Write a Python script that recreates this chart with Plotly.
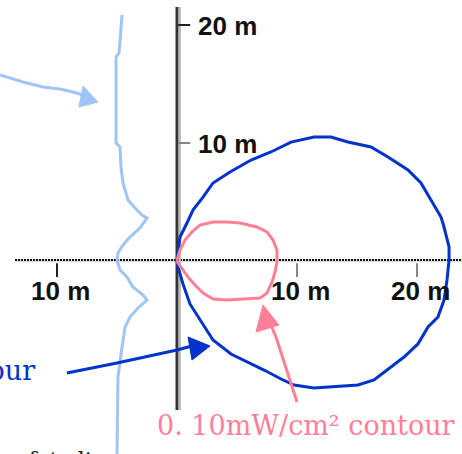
import plotly.graph_objects as go

# contour outlines, metres from the source point (x right, y up)
blue_x = [0, 0.25, 0.83, 1.33, 2.17, 3.0, 4.42, 6.17, 7.83, 9.5, 11.42, 12.83, 14.25, 16.17,
          17.58, 19.25, 20.33, 21.17, 22.0, 22.25, 22.67, 22.67, 22.5, 22.25, 21.75, 20.92,
          20.08, 18.92, 17.83, 16.42, 15.08, 12.83, 11.42, 9.75, 8.67, 7.25, 5.92, 4.5, 3.0,
          1.92, 1.08, 0.5, 0.08, 0]
blue_y = [0.08, 2.03, 3.22, 4.32, 5.42, 6.61, 7.54, 8.56, 9.24, 10.08, 10.51, 10.51, 10.08, 9.66,
          8.81, 7.71, 6.61, 5.17, 3.73, 2.88, 1.19, 0.08, -1.61, -3.31, -4.75, -5.59,
          -7.03, -8.14, -8.98, -10.08, -10.51, -10.68, -10.76, -10.51, -10.0, -9.24, -8.56, -7.88, -6.69,
          -5.0, -3.64, -1.95, -0.51, 0.08]

pink_x = [0, 0.25, 0.67, 1.25, 1.92, 3.0, 4.17, 5.25, 6.67, 7.5, 8.0, 8.33, 8.33, 8.17, 7.92,
          7.5, 6.92, 5.5, 4.17, 3.0, 2.17, 1.5, 0.92, 0.5, 0.08, 0]
pink_y = [0.08, 0.93, 1.78, 2.46, 3.05, 3.31, 3.31, 3.22, 2.88, 2.46, 1.78, 0.93, -0.08, -0.93, -1.78,
          -2.71, -3.14, -3.22, -3.31, -3.22, -2.71, -2.03, -1.36, -0.76, -0.17, 0.08]

wave_x = [-4.58, -4.67, -4.83, -5.08, -5.08, -4.75, -4.67, -4.5, -4.08, -3.5, -2.92, -2.5, -3.08,
          -3.92, -4.5, -4.92, -5.0, -4.75, -4.17, -3.67, -2.83, -2.5, -3.25, -3.92, -4.33, -4.58,
          -4.75, -4.92, -5.0]
wave_y = [20.85, 19.58, 17.63, 17.29, 10.0, 9.66, 7.97, 6.61, 5.17, 4.49, 3.9, 3.64, 2.8,
          2.03, 1.36, 0.68, 0.08, -0.76, -1.36, -2.2, -2.88, -3.31, -3.98, -4.75, -5.59, -7.29,
          -8.39, -9.83, -16.36]

# pointer arrows: shaft points and head triangles
lb_arrow_x = [-14.75, -13.92, -12.83, -11.17, -9.75, -8.33, -7.42]
lb_arrow_y = [15.76, 15.51, 15.17, 14.75, 14.58, 14.24, 13.9]
lb_head_x = [-7.83, -6.58, -8.17]
lb_head_y = [14.83, 13.47, 13.05]

db_arrow_x = [-9.17, -5.0, 0, 1.25]
db_arrow_y = [-9.49, -8.64, -7.54, -7.2]
db_head_x = [0.92, 2.75, 1.25]
db_head_y = [-6.44, -7.2, -8.39]

pk_arrow_x = [10.0, 9.08, 8.25, 7.58]
pk_arrow_y = [-11.95, -8.98, -6.44, -4.83]
pk_head_x = [7.17, 6.58, 8.5]
pk_head_y = [-3.73, -6.02, -5.42]

# axis ticks (m)
x_ticks = [-10, 10, 20]
y_ticks = [10, 20]

DARK_BLUE = "#0033cc"
PINK = "#ff8096"
LIGHT_BLUE = "#9fc5f8"

fig = go.Figure()

# axes
fig.add_trace(go.Scatter(x=[-13.5, 23.75], y=[0.03, 0.03], mode="lines",
                         line=dict(color="#dde0e3", width=3), hoverinfo="skip"))
fig.add_trace(go.Scatter(x=[-13.5, 23.75], y=[0.08, 0.08], mode="lines",
                         line=dict(color="#111", width=2, dash="2px,1px"), hoverinfo="skip"))
fig.add_trace(go.Scatter(x=[0.25, 0.25], y=[21.53, -12.63], mode="lines",
                         line=dict(color="#bbbbbb", width=2), hoverinfo="skip"))
fig.add_trace(go.Scatter(x=[0, 0], y=[21.53, -12.63], mode="lines",
                         line=dict(color="#333333", width=3), hoverinfo="skip"))
for t in x_ticks:
    fig.add_trace(go.Scatter(x=[t, t], y=[-0.2, -1.35], mode="lines",
                             line=dict(color="#222" if t < 0 else "#888", width=2), hoverinfo="skip"))
    fig.add_annotation(x=t + 0.25, y=-2.5, text=f"<b>{abs(t)} m</b>", showarrow=False,
                       font=dict(family="Liberation Sans", size=26, color="#111"))
for t in y_ticks:
    fig.add_trace(go.Scatter(x=[0.1, 1.1], y=[t, t], mode="lines",
                             line=dict(color="#222" if t == 20 else "#888", width=2), hoverinfo="skip"))
    fig.add_annotation(x=1.6, y=t - 0.1, text=f"<b>{t} m</b>", showarrow=False, xanchor="left",
                       font=dict(family="Liberation Sans", size=26, color="#111"))

# curves
fig.add_trace(go.Scatter(x=wave_x, y=wave_y, mode="lines", line=dict(color=LIGHT_BLUE, width=3)))
fig.add_trace(go.Scatter(x=blue_x, y=blue_y, mode="lines", line=dict(color=DARK_BLUE, width=3)))
fig.add_trace(go.Scatter(x=pink_x, y=pink_y, mode="lines", line=dict(color=PINK, width=3)))

# arrows
for sx, sy, hx, hy, c in [(lb_arrow_x, lb_arrow_y, lb_head_x, lb_head_y, LIGHT_BLUE),
                          (db_arrow_x, db_arrow_y, db_head_x, db_head_y, DARK_BLUE),
                          (pk_arrow_x, pk_arrow_y, pk_head_x, pk_head_y, PINK)]:
    fig.add_trace(go.Scatter(x=sx, y=sy, mode="lines", line=dict(color=c, width=3)))
    fig.add_trace(go.Scatter(x=hx + hx[:1], y=hy + hy[:1], mode="lines", fill="toself",
                             fillcolor=c, line=dict(color=c, width=1)))

# labels
fig.add_annotation(x=10.75, y=-13.9, text="0. 10mW/cm² contour", showarrow=False,
                   font=dict(family="DejaVu Serif", size=27, color=PINK))
fig.add_annotation(x=-11.65, y=-9.3, text="contour", showarrow=False, xanchor="right",
                   font=dict(family="DejaVu Serif", size=27, color=DARK_BLUE))
fig.add_annotation(x=-14.6, y=-15.7, text="safety line", showarrow=False, xanchor="left",
                   yanchor="top", font=dict(family="DejaVu Serif", size=22, color="#222"))

fig.update_layout(
    width=462, height=454,
    margin=dict(l=0, r=0, t=0, b=0),
    plot_bgcolor="white", paper_bgcolor="white",
    showlegend=False,
    xaxis=dict(range=[-14.75, 23.75], visible=False, fixedrange=True),
    yaxis=dict(range=[-16.356, 22.119], visible=False, fixedrange=True),
)

fig.write_html("out.html", config={"displayModeBar": False},
               post_script="document.body.style.margin = '0';")
